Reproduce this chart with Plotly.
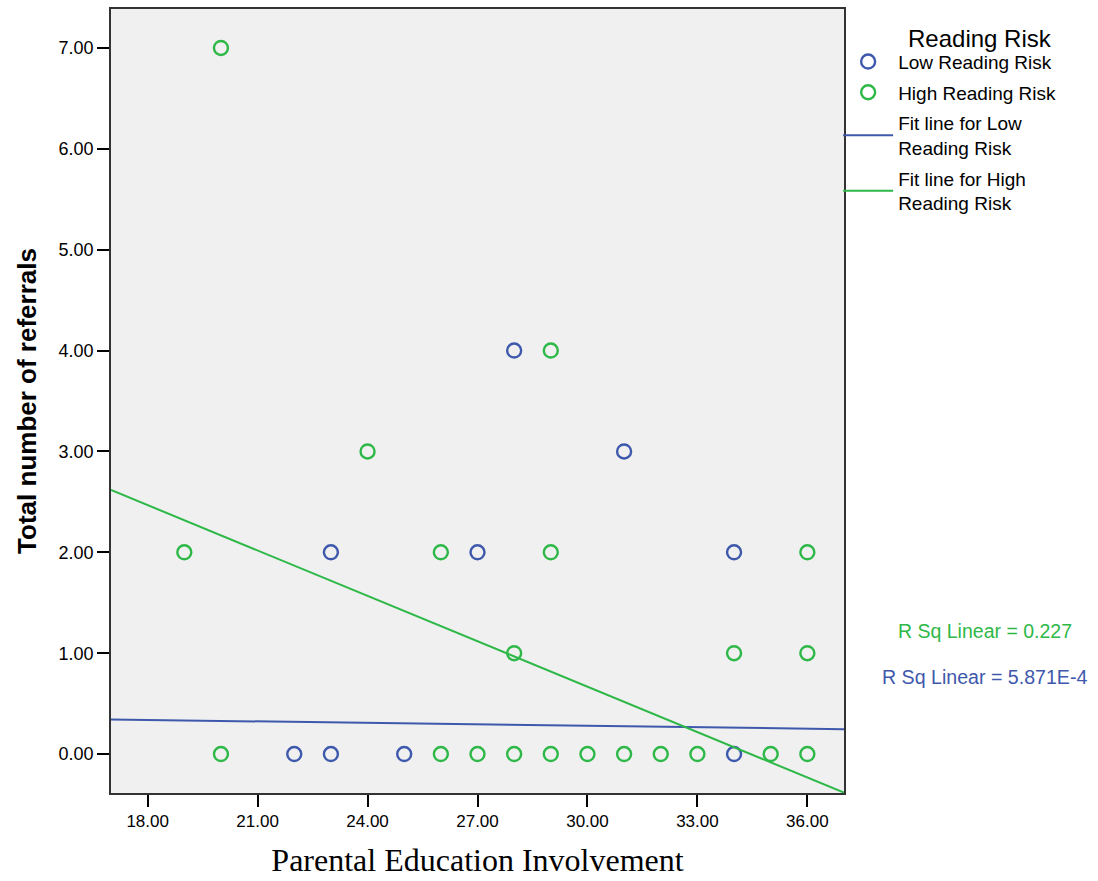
import plotly.graph_objects as go

# Data
low_x = [22, 23, 25, 34, 23, 27, 34, 31, 28]
low_y = [0, 0, 0, 0, 2, 2, 2, 3, 4]
high_x = [20, 26, 27, 28, 29, 30, 31, 32, 33, 35, 36, 28, 34, 36, 19, 26, 29, 36, 24, 29, 20]
high_y = [0, 0, 0, 0, 0, 0, 0, 0, 0, 0, 0, 1, 1, 1, 2, 2, 2, 2, 3, 4, 7]

# Fit line end values (at x=17 and x=37)
fit_x = [17, 37]
low_fit = [0.343, 0.247]
high_fit = [2.618, -0.382]

x_ticks = [18, 21, 24, 27, 30, 33, 36]
y_ticks = [0, 1, 2, 3, 4, 5, 6, 7]

BLUE = "#3E58AC"
GREEN = "#2EB848"

fig = go.Figure()
fig.add_trace(go.Scatter(x=low_x, y=low_y, mode="markers", name="Low Reading Risk", legendgroup="a",
                         marker=dict(symbol="circle-open", size=14, color=BLUE, line=dict(width=2.4, color=BLUE))))
fig.add_trace(go.Scatter(x=high_x, y=high_y, mode="markers", name="High Reading Risk", legendgroup="b",
                         marker=dict(symbol="circle-open", size=14, color=GREEN, line=dict(width=2.4, color=GREEN))))
fig.add_trace(go.Scatter(x=fit_x, y=low_fit, mode="lines", name="Fit line for Low<br>Reading Risk", legendgroup="c",
                         line=dict(color=BLUE, width=2)))
fig.add_trace(go.Scatter(x=fit_x, y=high_fit, mode="lines", name="Fit line for High<br>Reading Risk", legendgroup="d",
                         line=dict(color=GREEN, width=2)))

fig.update_layout(
    width=1098, height=881,
    margin=dict(l=111, r=254, t=7, b=88),
    paper_bgcolor="white",
    plot_bgcolor="#F0F0F0",
    font=dict(family="Liberation Sans, Arial", size=17, color="black"),
    showlegend=True,
    legend=dict(x=0.992, y=0.957, xanchor="left", yanchor="top",
                font=dict(size=19), bgcolor="rgba(0,0,0,0)", tracegroupgap=3,
                itemwidth=50),
    annotations=[
        dict(text="Reading Risk", x=1.1855, y=0.963, xref="paper", yref="paper",
             showarrow=False, font=dict(size=24, color="black"), xanchor="center", yanchor="middle"),
        dict(text="R Sq Linear = 0.227", x=1.192, y=0.206, xref="paper", yref="paper",
             showarrow=False, font=dict(size=19.5, color=GREEN), xanchor="center", yanchor="middle"),
        dict(text="R Sq Linear = 5.871E-4", x=1.192, y=0.1476, xref="paper", yref="paper",
             showarrow=False, font=dict(size=19.6, color=BLUE), xanchor="center", yanchor="middle"),
    ],
)

fig.update_xaxes(range=[17, 37], tickvals=x_ticks, tickformat=".2f", tickfont=dict(size=17),
                 ticks="outside", ticklen=12, tickwidth=2, tickcolor="black",
                 showgrid=False, zeroline=False, showline=True, linecolor="#333333", linewidth=1.5, mirror=True,
                 title=dict(text="Parental Education Involvement",
                            font=dict(family="Liberation Serif, Times New Roman", size=32), standoff=18))
fig.update_yaxes(range=[-0.386, 7.386], tickvals=y_ticks, tickformat=".2f", tickfont=dict(size=18),
                 ticks="outside", ticklen=12, tickwidth=2, tickcolor="black",
                 showgrid=False, zeroline=False, showline=True, linecolor="#333333", linewidth=1.5, mirror=True,
                 title=dict(text="<b>Total number of referrals</b>", font=dict(size=26), standoff=15))

fig.write_html("out.html")
